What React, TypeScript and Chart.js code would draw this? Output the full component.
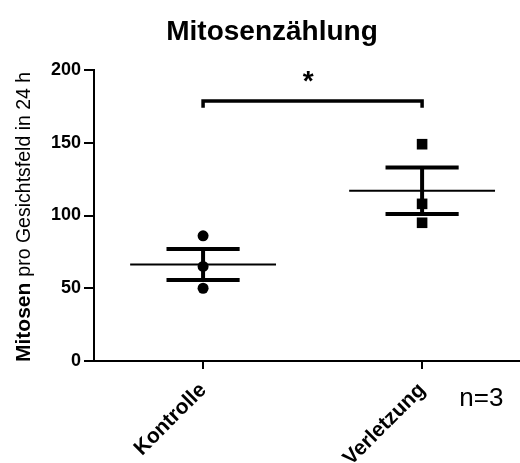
import React, { useEffect, useRef } from "react";
import { Chart, registerables } from "chart.js";

Chart.register(...registerables);

const categories = ["Kontrolle", "Verletzung"];
const kontrolle = [86, 65, 50];
const verletzung = [149, 108, 95];
const means = [66.3, 117];
const semUpper = [77, 133];
const semLower = [55.7, 101];
const yTicks = [0, 50, 100, 150, 200];
const bracketTop = 178.7;
const bracketLeg = 174;
const starValue = 186;

const FONT = '"Liberation Sans", Arial, sans-serif';
const halfMean = 0.333;
const halfCap = 0.167;

const overlay = {
  id: "overlay",
  afterDraw(chart: any) {
    const ctx = chart.ctx;
    const xs = chart.scales.x;
    const ys = chart.scales.y;
    ctx.save();
    ctx.fillStyle = "#000";
    // title
    ctx.font = `bold 28px ${FONT}`;
    ctx.textAlign = "center";
    ctx.textBaseline = "alphabetic";
    ctx.fillText("Mitosenzählung", 272, 40);
    // asterisk
    ctx.font = `bold 28px ${FONT}`;
    ctx.fillText("*", xs.getPixelForValue(1.48), ys.getPixelForValue(starValue));
    // n=3
    ctx.font = `26px ${FONT}`;
    ctx.textAlign = "left";
    ctx.fillText("n=3", xs.getPixelForValue(2.17), chart.chartArea.bottom + 45);
    // y title
    ctx.translate(30, 362);
    ctx.rotate(-Math.PI / 2);
    ctx.font = `bold 21px ${FONT}`;
    ctx.fillText("Mitosen", 0, 0);
    const w = ctx.measureText("Mitosen").width;
    ctx.font = `19.5px ${FONT}`;
    ctx.fillText("pro Gesichtsfeld in 24 h", w + 6, 0);
    ctx.restore();
  },
};

export default function App() {
  const ref = useRef<HTMLCanvasElement>(null);
  useEffect(() => {
    const lineDs = (pts: any[], width: number) => ({
      type: "scatter" as const,
      data: pts,
      showLine: true,
      borderColor: "#000",
      borderWidth: width,
      pointRadius: 0,
      fill: false,
      borderCapStyle: "butt" as const,
    });
    const datasets: any[] = [];
    const groups = [kontrolle, verletzung];
    groups.forEach((g, i) => {
      const xv = i + 1;
      datasets.push(lineDs([{ x: xv - halfMean, y: means[i] }, { x: xv + halfMean, y: means[i] }], 2));
      datasets.push(lineDs([{ x: xv, y: semLower[i] }, { x: xv, y: semUpper[i] }], 4));
      datasets.push(lineDs([{ x: xv - halfCap, y: semUpper[i] }, { x: xv + halfCap, y: semUpper[i] }], 4));
      datasets.push(lineDs([{ x: xv - halfCap, y: semLower[i] }, { x: xv + halfCap, y: semLower[i] }], 4));
    });
    datasets.push({
      ...lineDs(
        [
          { x: 1, y: bracketLeg },
          { x: 1, y: bracketTop },
          { x: 2, y: bracketTop },
          { x: 2, y: bracketLeg },
        ],
        3.5
      ),
      borderJoinStyle: "miter",
    });
    datasets.push({
      type: "scatter",
      data: kontrolle.map((v) => ({ x: 1, y: v })),
      pointStyle: "circle",
      pointRadius: 5.5,
      backgroundColor: "#000",
      borderColor: "#000",
      borderWidth: 0,
    });
    datasets.push({
      type: "scatter",
      data: verletzung.map((v) => ({ x: 2, y: v })),
      pointStyle: "rect",
      pointRadius: 7.5,
      backgroundColor: "#000",
      borderColor: "#000",
      borderWidth: 0,
    });

    const chart = new Chart(ref.current!, {
      type: "scatter",
      data: { datasets },
      plugins: [overlay],
      options: {
        animation: false,
        responsive: false,
        events: [],
        layout: { autoPadding: false, padding: { left: 0, right: 0, top: 70, bottom: 0 } },
        plugins: { legend: { display: false }, title: { display: false }, tooltip: { enabled: false } },
        scales: {
          x: {
            type: "linear",
            min: 0.502,
            max: 2.447,
            afterFit: (s: any) => {
              s.height = 102;
              s.paddingLeft = 0;
              s.paddingRight = 0;
            },
            afterBuildTicks: (s: any) => {
              s.ticks = categories.map((_, i) => ({ value: i + 1 }));
            },
            ticks: {
              autoSkip: false,
              minRotation: 45,
              maxRotation: 45,
              padding: 9,
              color: "#000",
              font: { family: FONT, size: 21, weight: "bold" },
              callback: (v: any) => categories[Math.round(v) - 1] ?? "",
            },
            grid: { drawOnChartArea: false, tickLength: 8, lineWidth: 2, color: "#000" },
            border: { display: true, color: "#000", width: 2 },
          },
          y: {
            type: "linear",
            min: 0,
            max: 200,
            afterFit: (s: any) => {
              s.width = 94;
              s.paddingTop = 0;
              s.paddingBottom = 0;
            },
            afterBuildTicks: (s: any) => {
              s.ticks = yTicks.map((v) => ({ value: v }));
            },
            ticks: {
              padding: 3,
              color: "#000",
              font: { family: FONT, size: 18, weight: "bold" },
            },
            grid: { drawOnChartArea: false, tickLength: 10, lineWidth: 2, color: "#000" },
            border: { display: true, color: "#000", width: 2 },
          },
        },
      },
    });
    return () => chart.destroy();
  }, []);
  return (
    <div style={{ position: "absolute", left: 0, top: 0, width: 520, height: 463, background: "#fff" }}>
      <canvas ref={ref} width={520} height={463} style={{ width: 520, height: 463 }} />
    </div>
  );
}
